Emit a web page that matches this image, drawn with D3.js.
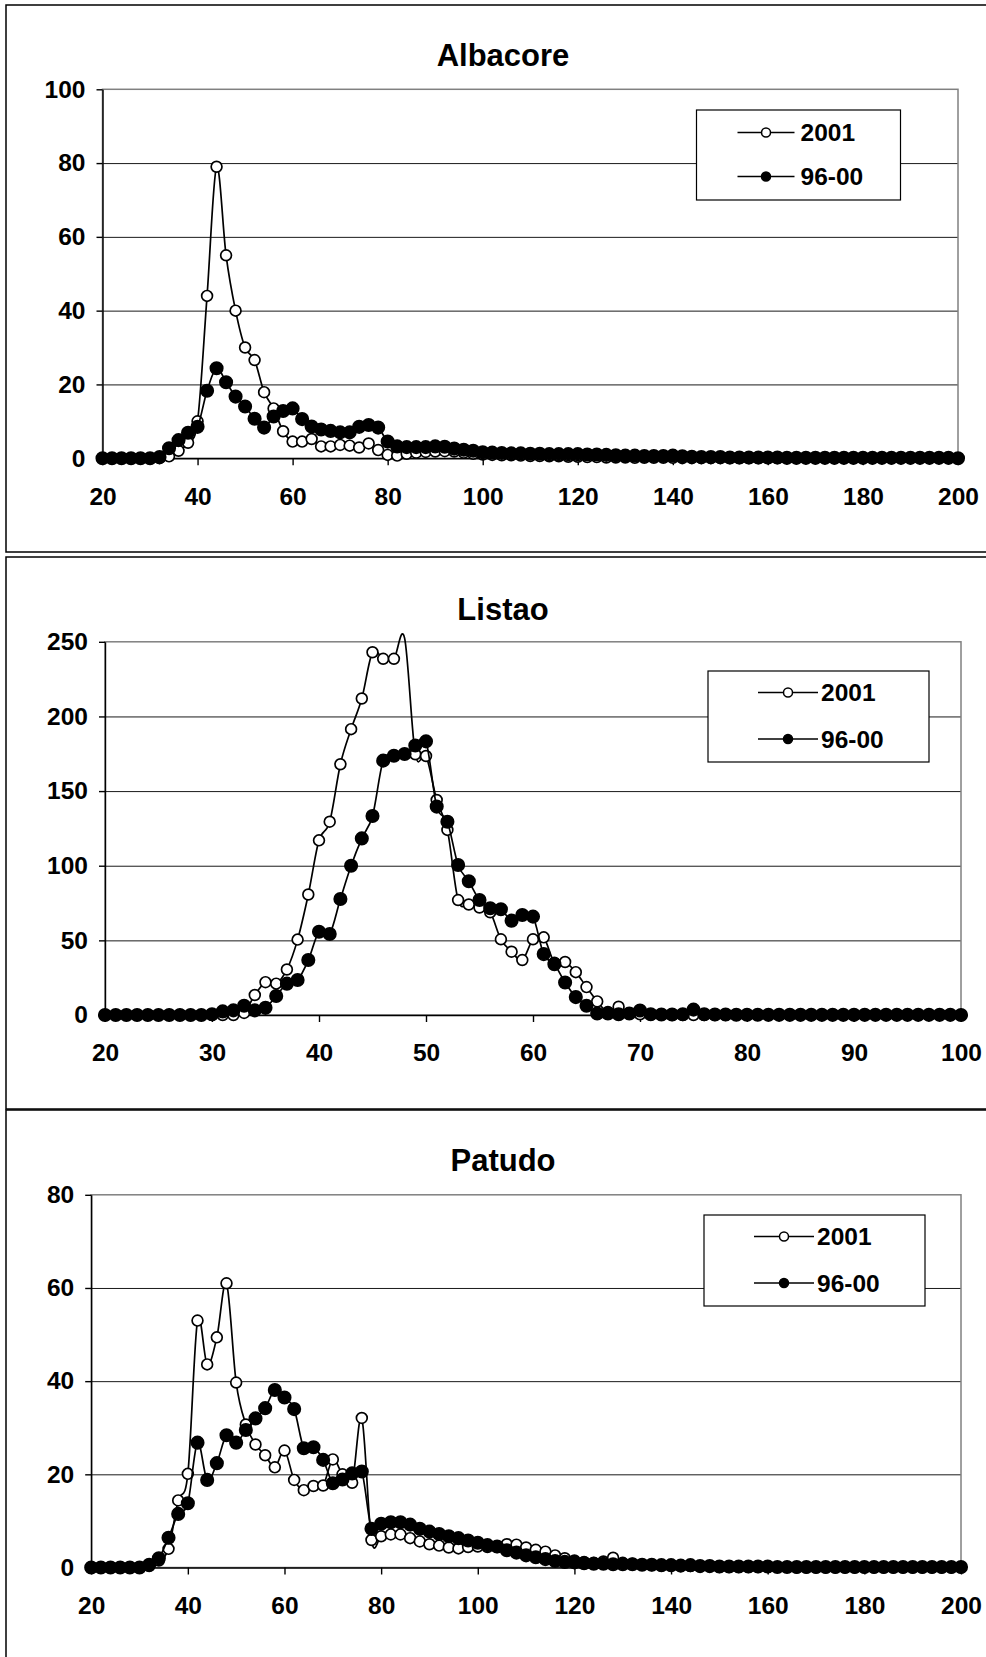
<!DOCTYPE html>
<html>
<head>
<meta charset="utf-8">
<script src="https://cdn.jsdelivr.net/npm/d3@7/dist/d3.min.js"></script>
<style>
body { margin: 0; background: #fff; }
svg { display: block; font-family: "Liberation Sans", Arial, sans-serif; font-weight: bold; }
</style>
</head>
<body>
<div class="chart"></div>
<script>
// DATA ------------------------------
const seriesNames = ["2001", "96-00"];

// Albacore: size classes 20..200 every 2
const albacoreSizes = d3.range(20, 201, 2);
const albacore2001 = [
  0, 0, 0, 0, 0, 0, 0, 0.5, 2, 4.2,
  10, 44, 79, 55, 40, 30, 26.6, 17.9, 13.5, 7.3,
  4.5, 4.5, 5.2, 3.2, 3.2, 3.6, 3.4, 2.9, 4, 2.2,
  0.9, 0.7, 1.2, 1.5, 1.7, 1.8, 1.9, 1.8, 1.5, 1.2,
  1.0, 0.9, 0.8, 0.8, 0.7, 0.6, 0.6, 0.5, 0.5, 0.4,
  0.4, 0.3, 0.3, 0.2, 0.2, 0.2, 0.1, 0.1, 0.1, 0.1,
  0.1, 0, 0, 0, 0, 0, 0, 0, 0, 0,
  0, 0, 0, 0, 0, 0, 0, 0, 0, 0,
  0, 0, 0, 0, 0, 0, 0, 0, 0, 0,
  0];
const albacore9600 = [
  0, 0, 0, 0, 0, 0, 0.3, 2.7, 4.9, 6.9,
  8.5, 18.3, 24.4, 20.6, 16.7, 14.0, 10.7, 8.3, 11.3, 12.8,
  13.5, 10.6, 8.6, 7.8, 7.4, 7.0, 7.0, 8.5, 9.0, 8.3,
  4.5, 3.2, 3.0, 3.0, 3.0, 3.2, 3.1, 2.6, 2.3, 2.0,
  1.6, 1.5, 1.4, 1.3, 1.3, 1.2, 1.2, 1.1, 1.1, 1.1,
  1.1, 1.0, 1.0, 0.9, 0.8, 0.7, 0.7, 0.6, 0.6, 0.6,
  0.7, 0.5, 0.4, 0.3, 0.3, 0.3, 0.2, 0.2, 0.2, 0.2,
  0.2, 0.2, 0.1, 0.1, 0.1, 0.1, 0.1, 0.1, 0.1, 0.1,
  0.1, 0.1, 0.1, 0.1, 0.1, 0.1, 0.1, 0.1, 0.1, 0.1,
  0];
const albacoreXTicks = [20, 40, 60, 80, 100, 120, 140, 160, 180, 200];
const albacoreYTicks = [0, 20, 40, 60, 80, 100];

// Listao: size classes 20..100 every 1
const listaoSizes = d3.range(20, 101, 1);
const listao2001 = [
  0, 0, 0, 0, 0, 0, 0, 0, 0, 0,
  0, 0, 0, 1.4, 13.4, 22, 21, 30.5, 50.5, 80.7,
  117, 129.5, 168, 191.5, 212, 243, 238.6, 238.6, 252.5, 174.7,
  173.5, 144, 124, 77, 74, 72, 68.8, 50.7, 42.4, 36.8,
  50.7, 52, 35, 35.5, 28.7, 18.7, 9.1, 2, 5.5, 1,
  0.5, 0.3, 0.2, 0, 0, 0, 0, 0, 0, 0,
  0, 0, 0, 0, 0, 0, 0, 0, 0, 0,
  0, 0, 0, 0, 0, 0, 0, 0, 0, 0,
  0];
const listao9600 = [
  0, 0, 0, 0, 0, 0, 0, 0, 0, 0,
  0.5, 2.4, 3.1, 6.2, 3.1, 4.8, 12.7, 21, 23.4, 36.8,
  55.8, 54.3, 77.7, 100, 118.3, 133.3, 170.4, 173.7, 174.8, 180.5,
  183.3, 139.6, 129.5, 100.5, 89.6, 77, 71.5, 70.8, 63.2, 67,
  65.9, 40.8, 34, 21.8, 12, 6.2, 1, 1, 0.5, 1,
  3, 0.5, 0.3, 0.3, 0.5, 3.6, 0.5, 0.3, 0.3, 0.2,
  0.2, 0.2, 0.1, 0.1, 0.1, 0.1, 0.1, 0.1, 0.1, 0.1,
  0.1, 0.1, 0.1, 0.1, 0.1, 0.1, 0.1, 0.1, 0.1, 0.1,
  0];
const listaoXTicks = [20, 30, 40, 50, 60, 70, 80, 90, 100];
const listaoYTicks = [0, 50, 100, 150, 200, 250];

// Patudo: size classes 20..200 every 2
const patudoSizes = d3.range(20, 201, 2);
const patudo2001 = [
  0, 0, 0, 0, 0, 0, 0.3, 1.5, 4.0, 14.4,
  20.1, 53, 43.6, 49.4, 61, 39.7, 30.7, 26.4, 24.1, 21.5,
  25.1, 18.8, 16.6, 17.5, 17.6, 23.2, 20, 18.2, 32.1, 5.9,
  6.7, 7.1, 7.1, 6.3, 5.6, 5.0, 4.7, 4.3, 4.1, 4.4,
  4.5, 4.4, 4.4, 5.0, 4.9, 4.3, 3.8, 3.4, 2.6, 2.0,
  1.5, 1.2, 1.0, 1.3, 2.1, 1.0, 0.8, 0.6, 0.5, 0.4,
  0.4, 0.3, 0.3, 0.2, 0.2, 0.1, 0.1, 0.1, 0.1, 0.1,
  0.1, 0.1, 0.1, 0, 0, 0, 0, 0, 0, 0,
  0, 0, 0, 0, 0, 0, 0, 0, 0, 0,
  0];
const patudo9600 = [
  0, 0, 0, 0, 0, 0, 0.6, 2.0, 6.4, 11.5,
  13.8, 26.8, 18.8, 22.4, 28.4, 26.8, 29.5, 32, 34.2, 38.1,
  36.5, 34, 25.6, 25.8, 23.1, 18.1, 18.9, 20.2, 20.6, 8.3,
  9.4, 9.7, 9.7, 9.2, 8.3, 7.7, 7.2, 6.7, 6.3, 5.8,
  5.3, 4.8, 4.5, 3.7, 3.2, 2.6, 2.2, 1.8, 1.4, 1.2,
  1.1, 0.9, 0.8, 0.8, 0.7, 0.7, 0.7, 0.6, 0.6, 0.5,
  0.5, 0.4, 0.5, 0.3, 0.3, 0.2, 0.2, 0.2, 0.2, 0.2,
  0.2, 0.1, 0.1, 0.1, 0.1, 0.1, 0.1, 0.1, 0.1, 0.1,
  0.1, 0.1, 0.1, 0.1, 0.1, 0.1, 0.1, 0.1, 0.1, 0.1,
  0.1];
const patudoXTicks = [20, 40, 60, 80, 100, 120, 140, 160, 180, 200];
const patudoYTicks = [0, 20, 40, 60, 80];

// LAYOUT ----------------------------
const W = 986, H = 1657;

const panels = [
  {title: "Albacore", sizes: albacoreSizes, series: [albacore2001, albacore9600],
   xTicks: albacoreXTicks, yTicks: albacoreYTicks,
   box: {top: 5, bottom: 552}, titleY: 66,
   plot: {left: 102.5, right: 958, top: 89.3, bottom: 458.2},
   legend: {x: 696.5, y: 110, w: 204, h: 90, lineX: 41, lineX2: 98, textX: 104, row1: 22.5, row2: 66.5}},
  {title: "Listao", sizes: listaoSizes, series: [listao2001, listao9600],
   xTicks: listaoXTicks, yTicks: listaoYTicks,
   box: {top: 557, bottom: 1109}, titleY: 620,
   plot: {left: 105, right: 961, top: 641.8, bottom: 1015},
   legend: {x: 708, y: 671, w: 221, h: 91, lineX: 50, lineX2: 110, textX: 113, row1: 21.5, row2: 68}},
  {title: "Patudo", sizes: patudoSizes, series: [patudo2001, patudo9600],
   xTicks: patudoXTicks, yTicks: patudoYTicks,
   box: {top: 1110, bottom: 1680}, titleY: 1171,
   plot: {left: 91.2, right: 961, top: 1194.8, bottom: 1567.5},
   legend: {x: 704, y: 1215, w: 221, h: 91, lineX: 50, lineX2: 110, textX: 113, row1: 21.5, row2: 68}}
];

const svg = d3.select(".chart")
  .append("svg")
  .attr("width", W)
  .attr("height", H);

// marker styles per series: open / filled
const markerFill = ["#fff", "#000"];
const markerR = [5.4, 6.2];

function drawPanel(p) {
  const g = svg.append("g");

  // outer chart frame (runs past the right edge)
  g.append("rect")
    .attr("x", 6)
    .attr("y", p.box.top)
    .attr("width", 1100)
    .attr("height", p.box.bottom - p.box.top)
    .attr("fill", "none")
    .attr("stroke", "#000")
    .attr("stroke-width", 1.5);

  g.append("text")
    .attr("x", 503)
    .attr("y", p.titleY)
    .attr("text-anchor", "middle")
    .attr("font-size", 31)
    .text(p.title);

  const x = d3.scaleLinear()
    .domain([p.sizes[0], p.sizes[p.sizes.length - 1]])
    .range([p.plot.left, p.plot.right]);
  const y = d3.scaleLinear()
    .domain([0, d3.max(p.yTicks)])
    .range([p.plot.bottom, p.plot.top]);

  // gridlines
  g.append("g")
    .attr("class", "grid")
    .attr("transform", `translate(${p.plot.left},0)`)
    .call(d3.axisLeft(y).tickValues(p.yTicks.slice(1, -1)).tickSize(-(p.plot.right - p.plot.left)).tickFormat(""))
    .call(s => s.select(".domain").remove())
    .selectAll("line")
    .attr("stroke", "#1a1a1a")
    .attr("stroke-width", 1);

  // plot area border
  g.append("rect")
    .attr("x", p.plot.left)
    .attr("y", p.plot.top)
    .attr("width", p.plot.right - p.plot.left)
    .attr("height", p.plot.bottom - p.plot.top)
    .attr("fill", "none")
    .attr("stroke", "#808080")
    .attr("stroke-width", 1.5);

  // axes
  const yAxis = g.append("g")
    .attr("transform", `translate(${p.plot.left},0)`)
    .call(d3.axisLeft(y).tickValues(p.yTicks).tickSize(6).tickSizeOuter(0).tickPadding(11));
  const xAxis = g.append("g")
    .attr("transform", `translate(0,${p.plot.bottom})`)
    .call(d3.axisBottom(x).tickValues(p.xTicks).tickSize(7).tickSizeOuter(0).tickPadding(22));
  [yAxis, xAxis].forEach(a => {
    a.attr("font-family", null).attr("font-size", 24.5);
    a.selectAll("path, line").attr("stroke", "#000").attr("stroke-width", 1.4);
  });

  // series
  const line = d3.line()
    .x(d => x(d.size))
    .y(d => y(d.value))
    .curve(d3.curveCardinal);

  p.series.forEach((vals, k) => {
    const pts = vals.map((v, i) => ({size: p.sizes[i], value: v}));
    g.append("path")
      .datum(pts)
      .attr("fill", "none")
      .attr("stroke", "#000")
      .attr("stroke-width", 1.7)
      .attr("d", line);
    g.append("g")
      .selectAll("circle")
      .data(pts.filter(d => d.value <= y.domain()[1]))
      .join("circle")
      .attr("cx", d => x(d.size))
      .attr("cy", d => y(d.value))
      .attr("r", markerR[k])
      .attr("fill", markerFill[k])
      .attr("stroke", "#000")
      .attr("stroke-width", 1.7);
  });

  // legend
  const L = p.legend;
  const lg = g.append("g").attr("transform", `translate(${L.x},${L.y})`);
  lg.append("rect")
    .attr("width", L.w)
    .attr("height", L.h)
    .attr("fill", "#fff")
    .attr("stroke", "#000")
    .attr("stroke-width", 1.2);
  seriesNames.forEach((name, k) => {
    const ry = k === 0 ? L.row1 : L.row2;
    lg.append("line")
      .attr("x1", L.lineX).attr("x2", L.lineX2)
      .attr("y1", ry).attr("y2", ry)
      .attr("stroke", "#000")
      .attr("stroke-width", 1.6);
    lg.append("circle")
      .attr("cx", (L.lineX + L.lineX2) / 2)
      .attr("cy", ry)
      .attr("r", 4.5)
      .attr("fill", markerFill[k])
      .attr("stroke", "#000")
      .attr("stroke-width", 1.5);
    lg.append("text")
      .attr("x", L.textX)
      .attr("y", ry)
      .attr("dy", "0.35em")
      .attr("font-size", 24.5)
      .text(name);
  });
}

panels.forEach(drawPanel);
</script>
</body>
</html>
